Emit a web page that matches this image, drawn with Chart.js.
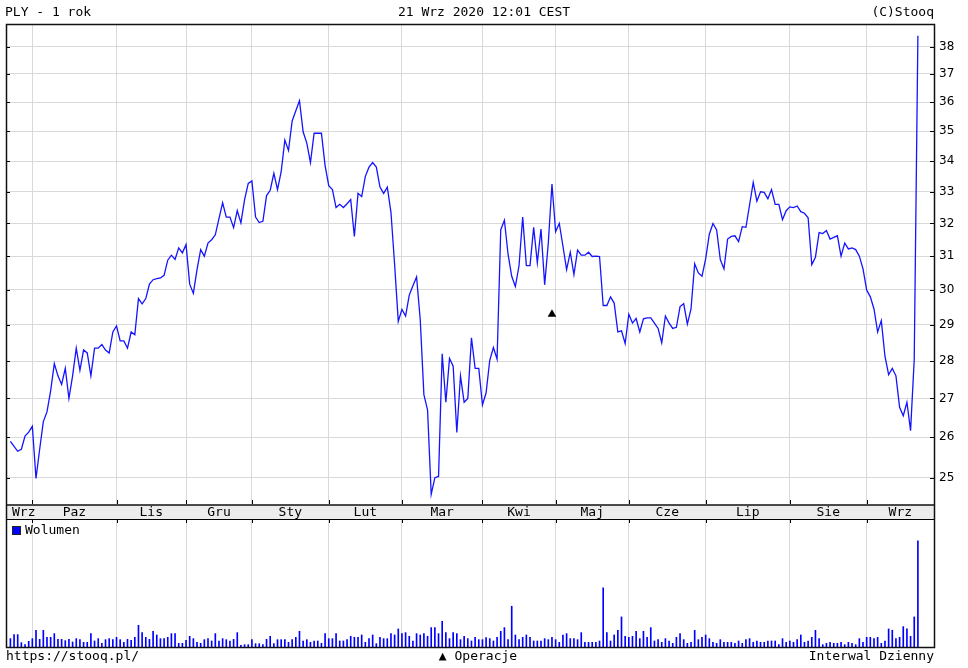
<!DOCTYPE html>
<html lang="pl">
<head>
<meta charset="UTF-8">
<title>PLY - 1 rok</title>
<script src="https://cdn.jsdelivr.net/npm/chart.js"></script>
<style>
    html, body { margin: 0; padding: 0; background: #fff; }
    #wrap { position: relative; width: 968px; height: 668px; }
    #priceChart { position: absolute; left: 0; top: 0; }
    #volChart { position: absolute; left: 0; top: 505px; }
</style>
</head>
<body>
<div id="wrap">
    <canvas id="priceChart" width="968" height="505"></canvas>
    <canvas id="volChart" width="968" height="163"></canvas>
</div>
<script>
// kurs zamkniecia, sesja po sesji (23.09.2019 - 21.09.2020)
const price = [
    25.9, 25.77, 25.65, 25.7, 26.03, 26.13, 26.28, 24.98, 25.7, 26.4,
    26.65, 27.2, 27.93, 27.6, 27.37, 27.8, 27.0, 27.6, 28.35, 27.75,
    28.3, 28.22, 27.6, 28.35, 28.35, 28.45, 28.3, 28.22, 28.8, 28.97,
    28.55, 28.55, 28.35, 28.8, 28.72, 29.75, 29.6, 29.75, 30.17, 30.3,
    30.33, 30.35, 30.43, 30.88, 31.03, 30.9, 31.25, 31.1, 31.35, 30.17,
    29.9, 30.6, 31.2, 31.0, 31.4, 31.5, 31.65, 32.15, 32.65, 32.2,
    32.2, 31.87, 32.4, 32.02, 32.75, 33.27, 33.35, 32.2, 32.03, 32.07,
    32.88, 33.05, 33.6, 33.07, 33.65, 34.7, 34.35, 35.35, 35.7, 36.05,
    34.98, 34.6, 33.95, 34.93, 34.93, 34.93, 33.85, 33.2, 33.07, 32.5,
    32.6, 32.5, 32.62, 32.75, 31.6, 32.95, 32.85, 33.5, 33.8, 33.95,
    33.8, 33.15, 32.95, 33.15, 32.35, 30.75, 29.1, 29.44, 29.25, 29.85,
    30.12, 30.38, 29.15, 27.1, 26.7, 24.6, 25.0, 25.03, 28.2, 26.9,
    28.07, 27.86, 26.12, 27.6, 26.9, 27.0, 28.64, 27.8, 27.8, 26.83,
    27.15, 28.02, 28.37, 28.05, 31.8, 32.1, 31.06, 30.4, 30.1, 30.72,
    32.2, 30.72, 30.72, 31.88, 30.8, 31.83, 30.15, 31.4, 33.25, 31.75,
    32.0, 31.3, 30.6, 31.12, 30.45, 31.18, 31.03, 31.03, 31.12, 30.99,
    31.0, 30.99, 29.55, 29.55, 29.8, 29.62, 28.8, 28.83, 28.48, 29.3,
    29.05, 29.18, 28.8, 29.17, 29.2, 29.2, 29.05, 28.9, 28.5, 29.25,
    29.05, 28.9, 28.93, 29.52, 29.6, 29.02, 29.45, 30.77, 30.5, 30.4,
    30.92, 31.67, 32.0, 31.8, 30.9, 30.62, 31.52, 31.6, 31.62, 31.44,
    31.9, 31.88, 32.58, 33.3, 32.7, 33.0, 32.98, 32.78, 33.07, 32.6,
    32.6, 32.12, 32.4, 32.52, 32.5, 32.55, 32.37, 32.32, 32.18, 30.75,
    30.97, 31.72, 31.69, 31.78, 31.52, 31.57, 31.62, 31.0, 31.4, 31.22,
    31.25, 31.2, 31.0, 30.62, 30.0, 29.8, 29.45, 28.8, 29.12, 28.13,
    27.63, 27.8, 27.6, 26.77, 26.55, 26.9, 26.17, 28.05, 38.4
];

// wolumen (jednostki wzgledne)
const volume = [
    25, 37, 37, 13, 7, 17, 25, 50, 23, 50,
    29, 29, 40, 23, 23, 19, 23, 15, 25, 22,
    14, 14, 40, 18, 25, 11, 22, 25, 22, 29,
    22, 14, 23, 20, 29, 65, 43, 29, 23, 47,
    36, 25, 25, 29, 40, 40, 11, 11, 20, 32,
    25, 14, 11, 22, 25, 18, 40, 18, 25, 22,
    18, 23, 43, 5, 7, 7, 22, 10, 10, 7,
    23, 32, 10, 22, 22, 22, 14, 22, 29, 47,
    18, 22, 14, 18, 18, 11, 40, 25, 25, 40,
    18, 18, 22, 32, 29, 29, 36, 14, 25, 36,
    10, 29, 25, 25, 40, 36, 54, 40, 43, 32,
    18, 40, 36, 40, 32, 58, 58, 40, 77, 43,
    25, 43, 40, 22, 32, 25, 18, 29, 22, 22,
    28, 25, 18, 29, 47, 58, 22, 122, 36, 22,
    29, 36, 29, 18, 18, 18, 25, 22, 29, 22,
    14, 36, 40, 25, 25, 22, 43, 14, 14, 14,
    14, 18, 177, 43, 18, 36, 50, 90, 32, 29,
    32, 47, 25, 47, 29, 58, 18, 22, 14, 25,
    18, 11, 29, 40, 22, 11, 14, 50, 22, 29,
    36, 25, 14, 11, 22, 14, 14, 14, 11, 18,
    11, 22, 25, 14, 18, 14, 14, 18, 18, 18,
    7, 25, 14, 18, 14, 22, 36, 14, 18, 29,
    50, 25, 7, 11, 14, 11, 11, 14, 7, 14,
    11, 7, 25, 14, 29, 29, 25, 29, 11, 18,
    54, 50, 25, 29, 61, 54, 32, 90, 318
];

// numer sesji, od ktorej zaczyna sie miesiac
const monthStart = [6, 29, 48, 66, 87, 107, 129, 149, 169, 190, 213, 234];
const monthNames = ['Wrz', 'Paz', 'Lis', 'Gru', 'Sty', 'Lut', 'Mar', 'Kwi', 'Maj', 'Cze', 'Lip', 'Sie', 'Wrz'];
const yTicks = [25, 26, 27, 28, 29, 30, 31, 32, 33, 34, 35, 36, 37, 38];
const operations = [{ x: 148, y: 29.3 }];

const X_MIN = -1.2, X_MAX = 252.4;
const MONO = '13px "DejaVu Sans Mono"';
const GRID = '#d9d9d9';

function monthTicks(s) { s.ticks = monthStart.map(v => ({ value: v })); }

// naglowek, ramka i kreski przy osiach wykresu kursu
const priceFrame = {
    id: 'priceFrame',
    afterDraw(chart) {
        const c = chart.ctx, a = chart.chartArea;
        const xs = chart.scales.x, ys = chart.scales.y;
        c.save();
        c.fillStyle = '#000';
        c.font = MONO;
        c.textBaseline = 'middle';
        c.textAlign = 'left';
        c.fillText('PLY - 1 rok', 5, 13);
        c.textAlign = 'center';
        c.fillText('21 Wrz 2020 12:01 CEST', 484, 13);
        c.textAlign = 'right';
        c.fillText('(C)Stooq', a.right, 13);

        c.strokeStyle = '#000';
        c.lineWidth = 1;
        c.beginPath();
        yTicks.forEach(v => {
            const y = Math.round(ys.getPixelForValue(v)) + 0.5;
            c.moveTo(a.left, y); c.lineTo(a.left + 4, y);
            c.moveTo(a.right - 4, y); c.lineTo(a.right, y);
        });
        monthStart.forEach(v => {
            const x = Math.round(xs.getPixelForValue(v)) + 0.5;
            c.moveTo(x, a.bottom); c.lineTo(x, a.bottom - 4);
        });
        c.stroke();

        c.lineWidth = 1.5;
        c.strokeStyle = '#111';
        c.strokeRect(a.left + 0.5, a.top + 0.5, a.right - a.left, a.bottom - a.top + 0.5);
        c.restore();
    }
};

// pasek z miesiacami, ramka wolumenu, legenda i stopka
const volFrame = {
    id: 'volFrame',
    beforeDraw(chart) {
        const c = chart.ctx, a = chart.chartArea;
        c.save();
        c.fillStyle = '#ececec';
        c.fillRect(a.left, 0, a.right - a.left, a.top);
        c.restore();
    },
    afterDraw(chart) {
        const c = chart.ctx, a = chart.chartArea;
        const xs = chart.scales.x;
        c.save();
        c.font = MONO;
        c.fillStyle = '#000';
        c.textBaseline = 'middle';
        c.textAlign = 'center';
        const bounds = [X_MIN].concat(monthStart, [X_MAX]);
        monthNames.forEach((name, i) => {
            let x = (xs.getPixelForValue(bounds[i]) + xs.getPixelForValue(bounds[i + 1])) / 2;
            const w = c.measureText(name).width;
            x = Math.max(x, a.left + 6 + w / 2);
            c.fillText(name, x, 7.5);
        });

        c.strokeStyle = '#000';
        c.lineWidth = 1;
        c.beginPath();
        monthStart.forEach(v => {
            const x = Math.round(xs.getPixelForValue(v)) + 0.5;
            c.moveTo(x, a.top); c.lineTo(x, a.top + 4);
        });
        c.moveTo(a.left, a.top + 0.5); c.lineTo(a.right, a.top + 0.5);
        c.stroke();

        c.lineWidth = 1.5;
        c.strokeStyle = '#111';
        c.strokeRect(a.left + 0.5, 0, a.right - a.left, a.bottom + 0.5);

        // legenda
        c.fillStyle = '#0000ff';
        c.fillRect(13, 22, 7, 7);
        c.lineWidth = 1;
        c.strokeStyle = '#222';
        c.strokeRect(12.5, 21.5, 8, 8);
        c.fillStyle = '#000';
        c.textAlign = 'left';
        c.fillText('Wolumen', 25, 26);

        // stopka
        c.textAlign = 'left';
        c.fillText('https://stooq.pl/', 6, 152);
        c.textAlign = 'center';
        c.fillText('\u25B2 Operacje', 478, 152);
        c.textAlign = 'right';
        c.fillText('Interwal Dzienny', a.right, 152);
        c.restore();
    }
};

new Chart(document.getElementById('priceChart'), {
    type: 'line',
    data: {
        datasets: [{
            label: 'PLY',
            data: price.map((v, i) => ({ x: i, y: v })),
            borderColor: '#1414ff',
            borderWidth: 1.3,
            pointRadius: 0,
            tension: 0
        }, {
            label: 'Operacje',
            data: operations,
            showLine: false,
            pointStyle: 'triangle',
            pointRadius: 5,
            backgroundColor: '#000',
            borderColor: '#000',
            borderWidth: 0
        }]
    },
    options: {
        responsive: false,
        animation: false,
        events: [],
        layout: { autoPadding: false, padding: { left: 6, top: 24, right: 0, bottom: 0 } },
        plugins: { legend: { display: false }, tooltip: { enabled: false } },
        scales: {
            x: {
                type: 'linear', min: X_MIN, max: X_MAX,
                afterBuildTicks: monthTicks,
                afterFit: s => { s.height = 1; s.paddingLeft = 0; s.paddingRight = 0; },
                ticks: { display: false },
                grid: { color: GRID, drawTicks: false },
                border: { display: false }
            },
            y: {
                type: 'logarithmic', position: 'right', min: 24.37, max: 38.84,
                afterBuildTicks: s => { s.ticks = yTicks.map(v => ({ value: v })); },
                afterFit: s => { s.width = 34; s.paddingTop = 0; s.paddingBottom = 0; },
                ticks: {
                    autoSkip: false, padding: 5, color: '#000',
                    font: { family: 'DejaVu Sans', size: 12 },
                    callback: v => String(v)
                },
                grid: { color: GRID, drawTicks: false },
                border: { display: false }
            }
        }
    },
    plugins: [priceFrame]
});

new Chart(document.getElementById('volChart'), {
    type: 'bar',
    data: {
        datasets: [{
            label: 'Wolumen',
            data: volume.map((v, i) => ({ x: i, y: v })),
            backgroundColor: '#0000ff',
            barThickness: 1,
            grouped: false
        }]
    },
    options: {
        responsive: false,
        animation: false,
        events: [],
        layout: { autoPadding: false, padding: { left: 6, top: 14, right: 34, bottom: 21 } },
        plugins: { legend: { display: false }, tooltip: { enabled: false } },
        scales: {
            x: {
                type: 'linear', min: X_MIN, max: X_MAX, offset: false,
                afterBuildTicks: monthTicks,
                afterFit: s => { s.height = 0; },
                ticks: { display: false },
                grid: { color: GRID, drawTicks: false, offset: false },
                border: { display: false }
            },
            y: { display: false, min: 0, max: 383 }
        }
    },
    plugins: [volFrame]
});
</script>
</body>
</html>
